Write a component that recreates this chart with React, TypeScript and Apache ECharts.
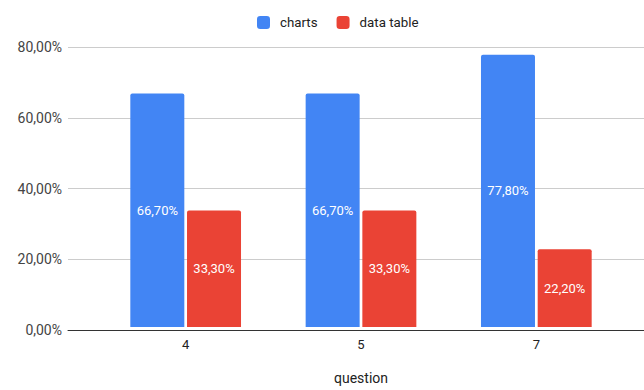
import React, { useEffect, useRef } from "react";
import * as echarts from "echarts";

const questions = ["4", "5", "7"];
const chartsShare = [66.7, 66.7, 77.8];
const dataTableShare = [33.3, 33.3, 22.2];
const seriesNames = ["charts", "data table"];
const yTicks = [0, 20, 40, 60, 80];

const fmt = (v: number) => v.toFixed(2).replace(".", ",") + "%";

export default function App() {
  const ref = useRef<HTMLDivElement>(null);

  useEffect(() => {
    if (!ref.current) return;
    const chart = echarts.init(ref.current, undefined, { renderer: "svg" });
    const font = "Roboto, Arial, sans-serif";
    const yMax = yTicks[yTicks.length - 1];
    const yStep = yTicks[1] - yTicks[0];

    const valueLabel = {
      show: true,
      position: "inside",
      color: "#fff",
      fontSize: 13,
      fontFamily: font,
      formatter: (p: any) => fmt(p.value),
    };

    chart.setOption({
      animation: false,
      textStyle: { fontFamily: font },
      legend: {
        top: 11,
        left: 252,
        itemWidth: 13,
        itemHeight: 13,
        itemGap: 19,
        icon: "roundRect",
        textStyle: { fontSize: 13.3, color: "#222", fontFamily: font, padding: [0, 0, 0, 5] },
        data: seriesNames,
      },
      grid: [
        // full-width frame: gridlines, baseline, tick labels
        { left: 68, right: 0, top: 47, bottom: 60 },
        // narrower area where the bar groups sit
        { left: 98, right: 20, top: 47, bottom: 60 },
      ],
      xAxis: [
        {
          type: "category",
          gridIndex: 0,
          data: [""],
          axisLine: { show: true, lineStyle: { color: "#333", width: 1 } },
          axisTick: { show: false },
          axisLabel: { show: false },
        },
        {
          type: "category",
          gridIndex: 1,
          data: questions,
          axisLine: { show: false },
          axisTick: { show: false },
          axisLabel: { color: "#222", fontSize: 13, margin: 11, fontFamily: font },
          name: "question",
          nameLocation: "middle",
          nameGap: 44,
          nameTextStyle: { color: "#222", fontSize: 14, fontFamily: font },
        },
      ],
      yAxis: [
        {
          type: "value",
          gridIndex: 0,
          min: 0,
          max: yMax,
          interval: yStep,
          axisLine: { show: false },
          axisTick: { show: false },
          axisLabel: {
            color: "#444",
            fontSize: 14,
            margin: 6,
            fontFamily: font,
            formatter: (v: number) => fmt(v),
          },
          splitLine: { lineStyle: { color: "#ccc", width: 1 } },
        },
        {
          type: "value",
          gridIndex: 1,
          min: 0,
          max: yMax,
          interval: yStep,
          show: false,
          splitLine: { show: false },
        },
      ],
      series: [
        {
          name: seriesNames[0],
          type: "bar",
          xAxisIndex: 1,
          yAxisIndex: 1,
          data: chartsShare,
          barWidth: 54,
          barGap: "5%",
          itemStyle: { color: "#4285F4", borderRadius: [2, 2, 0, 0] },
          label: valueLabel,
        },
        {
          name: seriesNames[1],
          type: "bar",
          xAxisIndex: 1,
          yAxisIndex: 1,
          data: dataTableShare,
          barWidth: 54,
          barGap: "5%",
          itemStyle: { color: "#EA4335", borderRadius: [2, 2, 0, 0] },
          label: valueLabel,
        },
      ],
    });

    return () => chart.dispose();
  }, []);

  return <div ref={ref} style={{ width: 644, height: 390, position: "absolute", left: 0, top: 0 }} />;
}
